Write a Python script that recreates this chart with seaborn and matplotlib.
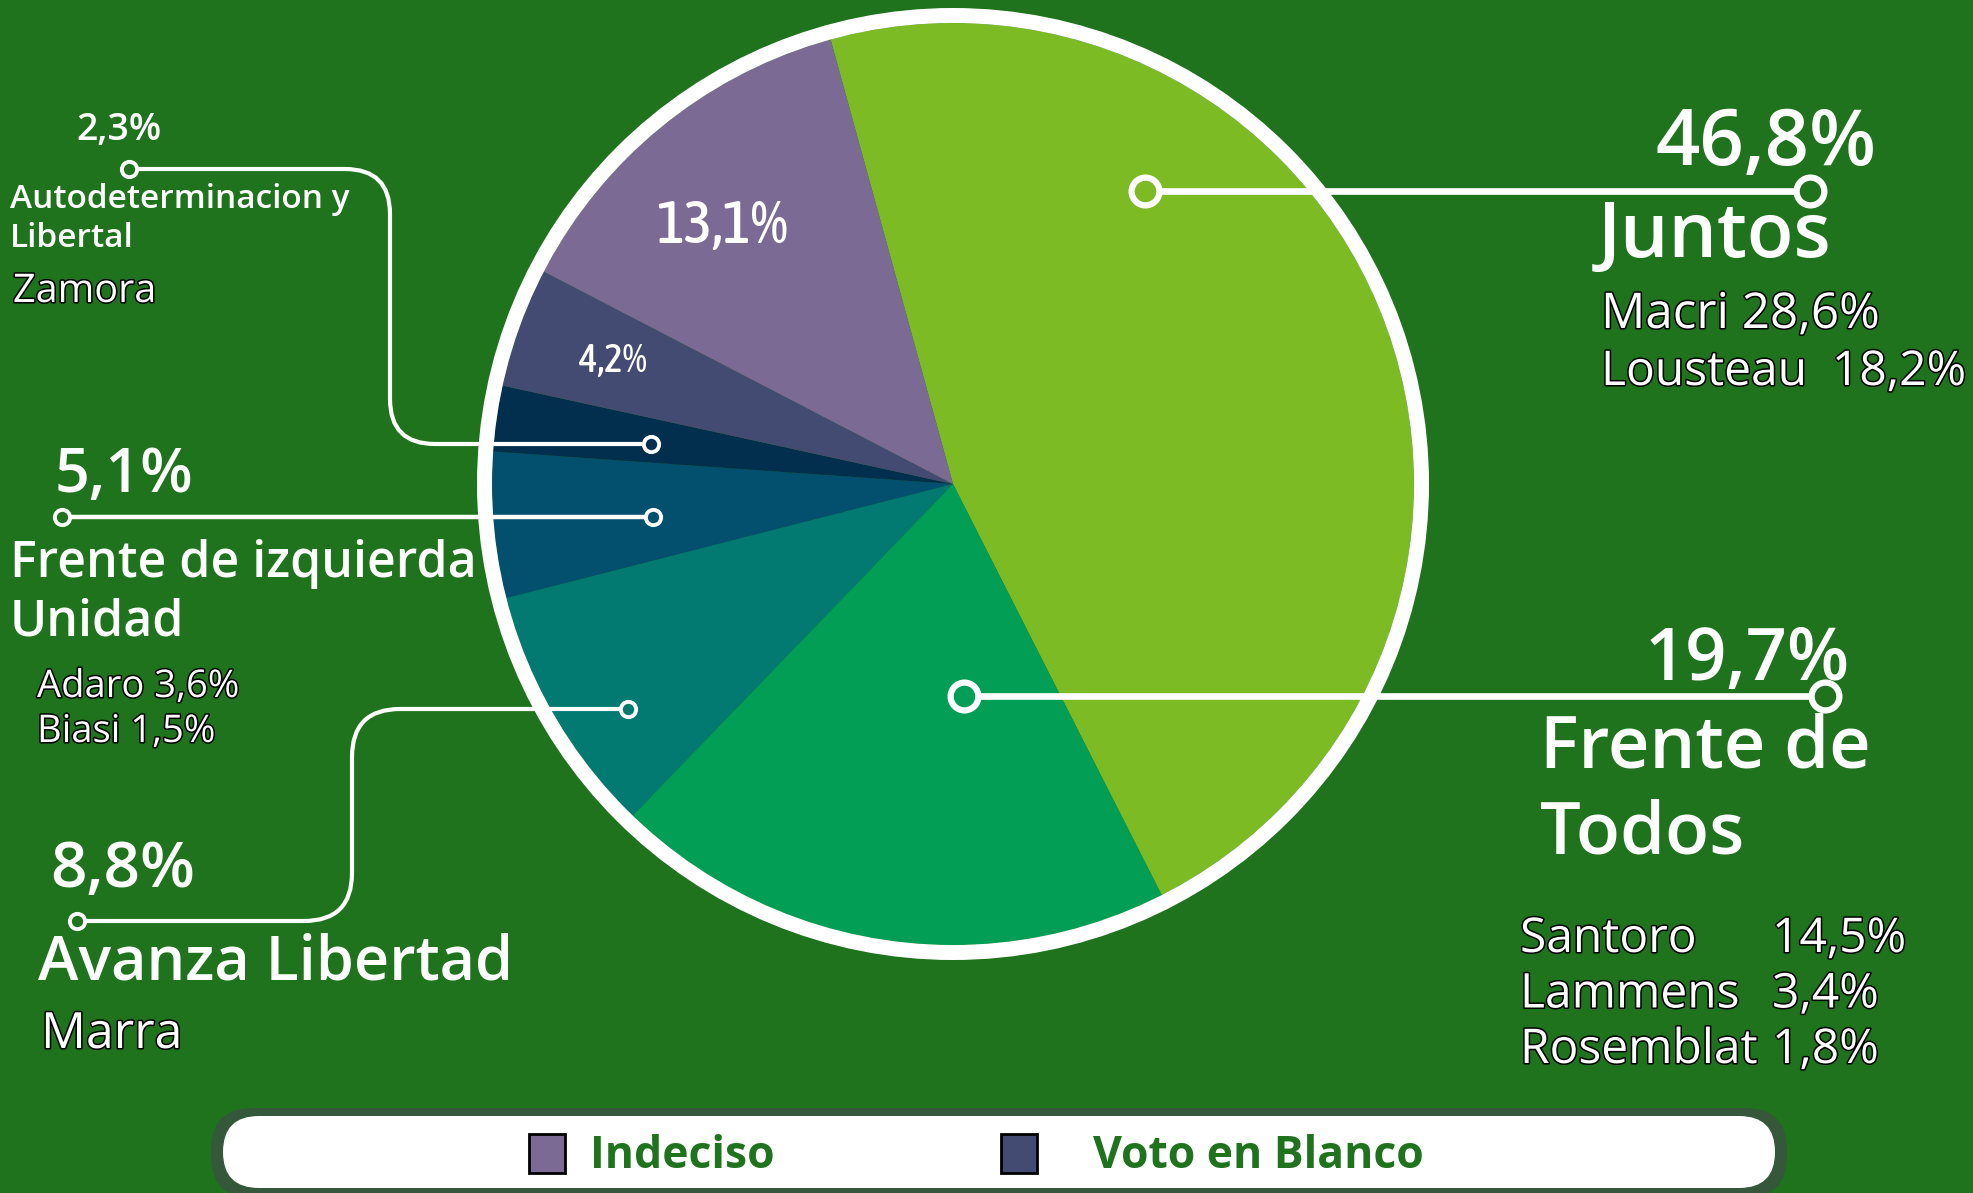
import numpy as np
import matplotlib
matplotlib.use("Agg")
import matplotlib.pyplot as plt
import matplotlib.patheffects as pe
from matplotlib import font_manager as fm
from matplotlib.path import Path
from matplotlib.patches import PathPatch, Circle, FancyBboxPatch, Rectangle
import seaborn as sns

# Datos de la encuesta (orden horario desde arriba)
parties = ["Juntos", "Frente de Todos", "Avanza Libertad", "Frente de izquierda Unidad",
           "Autodeterminacion y Libertal", "Voto en Blanco", "Indeciso"]
shares = [46.8, 19.7, 8.8, 5.1, 2.3, 4.2, 13.1]
party_colors = ["#7CBB24", "#029E55", "#027A72", "#02506E", "#022F4E", "#434B73", "#7B6A94"]

juntos_names = ["Macri", "Lousteau"]
juntos_votes = [28.6, 18.2]
fdt_names = ["Santoro", "Lammens", "Rosemblat"]
fdt_votes = [14.5, 3.4, 1.8]
fit_names = ["Adaro", "Biasi"]
fit_votes = [3.6, 1.5]
avanza_names = ["Marra"]
autodet_names = ["Zamora"]
legend_labels = ["Indeciso", "Voto en Blanco"]

BG = "#1F731D"
W, H = 1974, 1193


def pct(v):
    return f"{v:.1f}".replace(".", ",") + "%"


sns.set_theme(style="white")
plt.rcParams["font.family"] = ["Open Sans", "DejaVu Sans"]

# fuente angosta para los porcentajes dentro de la torta, si hay alguna
cond = [f for f in fm.fontManager.ttflist
        if ("condensed" in f.fname.lower() or "narrow" in f.fname.lower())
        and f.style == "normal"]
cond.sort(key=lambda f: abs(int(f.weight) - 500) if str(f.weight).isdigit() else 100)
if cond:
    inner_fp = fm.FontProperties(fname=cond[0].fname)
    inner_scale = 1.0
else:
    inner_fp = fm.FontProperties(family=["Open Sans", "DejaVu Sans"])
    inner_scale = 0.8

fig = plt.figure(figsize=(W / 100, H / 100), dpi=100, facecolor=BG)
ax = fig.add_axes([0, 0, 1, 1])
ax.set_facecolor(BG)

# Torta (eje y invertido: angulos espejados)
cx, cy, r = 953, 484, 461
wedges, _ = ax.pie(shares, colors=party_colors, startangle=-105.4, counterclock=True,
                   center=(cx, cy), radius=r, frame=True,
                   wedgeprops=dict(linewidth=0))
ax.set_xlim(0, W)
ax.set_ylim(H, 0)
ax.set_aspect("auto")
ax.axis("off")
ax.add_patch(Circle((cx, cy), r + 7.5, fill=False, ec="white", lw=15 * 0.72, zorder=3))

# Etiquetas dentro de la torta
for idx, dist, shift, size in [(6, 0.75, -3.0, 43), (5, 0.785, 0.0, 28)]:
    w = wedges[idx]
    mid = np.deg2rad((w.theta1 + w.theta2) / 2 + shift)
    ax.text(cx + dist * r * np.cos(mid), cy + dist * r * np.sin(mid), pct(shares[idx]),
            color="white", fontproperties=inner_fp, fontsize=size * inner_scale,
            ha="center", va="center", zorder=4)


def marker(x, y, fc, big=True):
    ms, mew = (20, 4.5) if big else (11, 2.8)
    ax.plot([x], [y], marker="o", ms=ms, mfc=fc, mec="white", mew=mew, zorder=6)


def straight(x0, x1, y, lw):
    ax.plot([x0, x1], [y, y], color="white", lw=lw, solid_capstyle="butt", zorder=5)


def elbow(x0, y0, xc, y1, x1, rad, lw):
    s = np.sign(y1 - y0)
    verts = [(x0, y0), (xc - rad, y0), (xc, y0), (xc, y0 + s * rad),
             (xc, y1 - s * rad), (xc, y1), (xc + rad, y1), (x1, y1)]
    codes = [Path.MOVETO, Path.LINETO, Path.CURVE3, Path.CURVE3,
             Path.LINETO, Path.CURVE3, Path.CURVE3, Path.LINETO]
    ax.add_patch(PathPatch(Path(verts, codes), fill=False, ec="white", lw=lw, zorder=5))


outline = [pe.withStroke(linewidth=2.2, foreground="black")]
bold = dict(color="white", fontweight="semibold", va="baseline", zorder=7)
thin = dict(color="white", fontweight="normal", va="baseline", zorder=7, path_effects=outline)

# Juntos
straight(1145, 1810, 191, 4.8)
marker(1145, 191, party_colors[0])
marker(1810, 191, BG)
ax.text(1877, 165, pct(shares[0]), fontsize=56, ha="right", **bold)
ax.text(1598, 257, parties[0], fontsize=55, ha="left", **bold)
ax.text(1601, 328, f"{juntos_names[0]} {pct(juntos_votes[0])}", fontsize=35.5, **thin)
ax.text(1601, 385, f"{juntos_names[1]}  {pct(juntos_votes[1])}", fontsize=34.5, **thin)

# Frente de Todos
straight(964, 1825, 696, 4.8)
marker(964, 696, party_colors[1])
marker(1825, 696, BG)
ax.text(1850, 680, pct(shares[1]), fontsize=52, ha="right", **bold)
ax.text(1540, 768, "Frente de", fontsize=52, ha="left", **bold)
ax.text(1540, 853, "Todos", fontsize=52, ha="left", **bold)
for i, (n, v) in enumerate(zip(fdt_names, fdt_votes)):
    y = 952 + i * 55.5
    ax.text(1520, y, n, fontsize=34.5, ha="left", **thin)
    ax.text(1772, y, pct(v), fontsize=34.5, ha="left", **thin)

# Autodeterminacion y Libertal
elbow(129, 169, 390, 444, 651, 45, 3)
marker(129, 169, BG, big=False)
marker(651, 444, party_colors[4], big=False)
ax.text(76, 140, pct(shares[4]), fontsize=27, ha="left", **bold)
ax.text(10, 208, "Autodeterminacion y", fontsize=24, ha="left", **bold)
ax.text(10, 247, "Libertal", fontsize=24, ha="left", **bold)
ax.text(13, 302, autodet_names[0], fontsize=28.5, ha="left", **thin)

# Frente de izquierda Unidad
straight(62, 653, 517, 3.2)
marker(62, 517, BG, big=False)
marker(653, 517, party_colors[3], big=False)
ax.text(55, 492, pct(shares[3]), fontsize=44, ha="left", **bold)
ax.text(10, 577, "Frente de izquierda", fontsize=36, ha="left", **bold)
ax.text(10, 635, "Unidad", fontsize=36, ha="left", **bold)
for i, (n, v) in enumerate(zip(fit_names, fit_votes)):
    ax.text(37, 697 + i * 45, f"{n} {pct(v)}", fontsize=27.5, ha="left", **thin)

# Avanza Libertad
elbow(77, 921, 352, 709, 628, 48, 3)
marker(77, 921, BG, big=False)
marker(628, 709, party_colors[2], big=False)
ax.text(50, 887, pct(shares[2]), fontsize=46, ha="left", **bold)
ax.text(38, 980, parties[2], fontsize=44, ha="left", **bold)
ax.text(41, 1048, avanza_names[0], fontsize=36, ha="left", **thin)

# Barra de leyenda inferior
ax.add_patch(FancyBboxPatch((211, 1108), 1576, 90, boxstyle="round,pad=0,rounding_size=42",
                            fc="#35573A", ec="none", zorder=2))
ax.add_patch(FancyBboxPatch((223, 1116), 1552, 72, boxstyle="round,pad=0,rounding_size=36",
                            fc="white", ec="none", zorder=3))
for (sx, tx), lab in zip([(529, 590), (1001, 1093)], legend_labels):
    col = party_colors[parties.index(lab)]
    ax.add_patch(Rectangle((sx, 1134), 36, 39, fc=col, ec="black", lw=2, zorder=4))
    ax.text(tx, 1168, lab, fontsize=32, color=BG, fontweight="bold", ha="left",
            va="baseline", zorder=4)

fig.savefig("out.png", dpi=100, facecolor=BG)
